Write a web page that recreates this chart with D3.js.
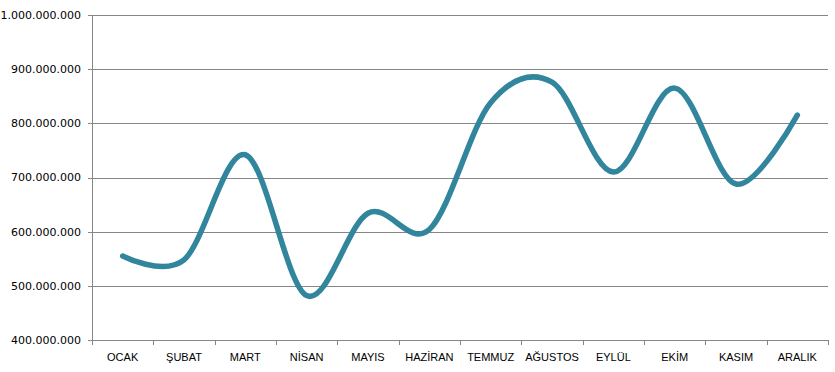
<!DOCTYPE html>
<html>
<head>
<meta charset="utf-8">
<style>
  body { margin: 0; background: #fff; }
  .ylab { font-family: "DejaVu Sans", sans-serif; font-size: 11px; fill: #000; }
  .xlab { font-family: "Liberation Sans", Arial, sans-serif; font-size: 11px; fill: #000; }
</style>
</head>
<body>
<script src="https://cdn.jsdelivr.net/npm/d3@7"></script>
<script>

var months = ["OCAK", "ŞUBAT", "MART", "NİSAN", "MAYIS", "HAZİRAN", "TEMMUZ", "AĞUSTOS", "EYLÜL", "EKİM", "KASIM", "ARALIK"];
var values = [555000000, 548000000, 742000000, 482000000, 634000000, 604000000, 838000000, 876000000, 710000000, 865000000, 688000000, 815000000];
var yTicks = [400000000, 500000000, 600000000, 700000000, 800000000, 900000000, 1000000000];

var margin = {top: 15, right: 7, bottom: 32, left: 92},
    width = 835 - margin.left - margin.right,
    height = 372 - margin.top - margin.bottom;

var svg = d3.select("body").append("svg")
    .attr("width", 835)
    .attr("height", 372)
  .append("g")
    .attr("transform", "translate(" + margin.left + "," + margin.top + ")");

var x = d3.scaleBand()
    .domain(months)
    .range([0, width]);

var y = d3.scaleLinear()
    .domain([400000000, 1000000000])
    .range([height, 0]);

var fmt = function(d) { return d3.format(",")(d).replace(/,/g, "."); };

// gridlines + y ticks
svg.selectAll(".grid")
    .data(yTicks)
  .enter().append("line")
    .attr("class", "grid")
    .attr("x1", -4)
    .attr("x2", width)
    .attr("y1", function(d) { return Math.round(y(d)) + 0.5; })
    .attr("y2", function(d) { return Math.round(y(d)) + 0.5; })
    .style("stroke", "#868686")
    .style("stroke-width", 1);

svg.selectAll(".ylab")
    .data(yTicks)
  .enter().append("text")
    .attr("class", "ylab")
    .attr("x", -11)
    .attr("y", function(d) { return y(d); })
    .attr("dy", ".35em")
    .style("text-anchor", "end")
    .text(fmt);

// y axis line
svg.append("line")
    .attr("x1", 0.5).attr("x2", 0.5)
    .attr("y1", 0).attr("y2", height)
    .style("stroke", "#868686");

// x ticks at band boundaries
var bounds = months.map(function(m) { return x(m); }).concat([width]);
svg.selectAll(".xtick")
    .data(bounds)
  .enter().append("line")
    .attr("class", "xtick")
    .attr("x1", function(d) { return Math.round(d) + 0.5; })
    .attr("x2", function(d) { return Math.round(d) + 0.5; })
    .attr("y1", height)
    .attr("y2", height + 5)
    .style("stroke", "#868686");

svg.selectAll(".xlab")
    .data(months)
  .enter().append("text")
    .attr("class", "xlab")
    .attr("x", function(d) { return x(d) + x.bandwidth() / 2; })
    .attr("y", height + 17)
    .attr("dy", ".35em")
    .style("text-anchor", "middle")
    .text(function(d) { return d; });

var line = d3.line()
    .x(function(d, i) { return x(months[i]) + x.bandwidth() / 2; })
    .y(function(d) { return y(d); })
    .curve(d3.curveCardinal.tension(0));

svg.append("path")
    .datum(values)
    .attr("d", line)
    .style("fill", "none")
    .style("stroke", "#31859C")
    .style("stroke-width", 5.5)
    .style("stroke-linecap", "round")
    .style("stroke-linejoin", "round");

</script>
</body>
</html>
